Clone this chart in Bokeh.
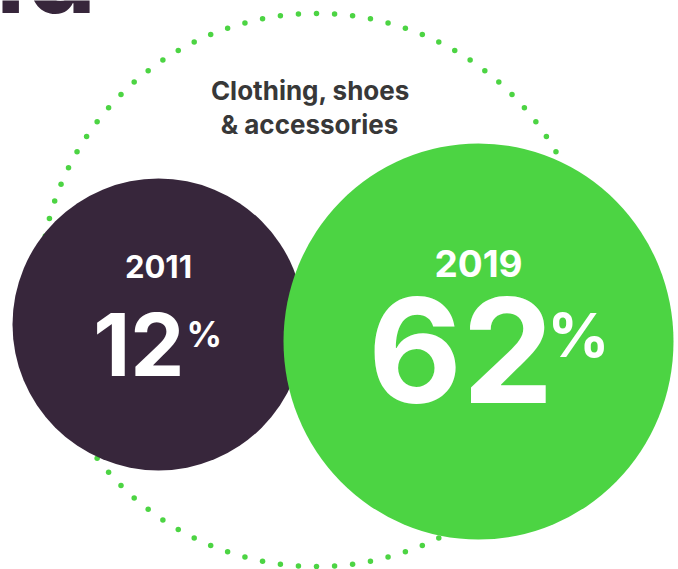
import numpy as np
from bokeh.plotting import figure
from bokeh.models import Range1d
from bokeh.core.properties import value
from bokeh.embed import file_html
from bokeh.resources import INLINE

# ---- data ----
years = ["2011", "2019"]
shares = [12, 62]
category_lines = ["Clothing, shoes", "& accessories"]
title_fragment = "ld"

# ---- layout / style ----
W, H = 678, 569
bubble_x = [158, 478]
bubble_y = [324, 341]
bubble_w = [292, 390]
bubble_h = [292, 396]
bubble_colors = ["#37263B", "#4CD443"]
year_dy = [-46, -64]
year_size = [31, 37]
val_dy = [54, 66]
val_right = [26, 75]
val_size = [86, 145]
pct_dx = [2, -6]
pct_dy = [23, 17]
pct_size = [35, 61]
ring_cx, ring_cy, ring_r, ring_n = 316, 289.5, 276.5, 96
GREEN = "#4CD443"
DARK = "#37263B"
FONT = value("Inter")
BL = 0.39  # baseline correction (fraction of font size)

p = figure(width=W, height=H, x_range=Range1d(0, W), y_range=Range1d(H, 0),
           output_backend="svg", toolbar_location=None, min_border=0)
p.axis.visible = False
p.grid.visible = False
p.outline_line_color = None
p.background_fill_color = "white"
p.border_fill_color = "white"


def label(x, y, txt, size, color, align):
    p.text(x=[x], y=[y - BL * size], text=[txt], text_font=FONT, text_font_style="bold",
           text_font_size=f"{size}px", text_color=color, text_align=align,
           text_baseline="alphabetic")


# partial headline
label(96, 15, title_fragment, 112, DARK, "right")

# dotted ring
ang = np.pi / 2 + np.arange(ring_n) * 2 * np.pi / ring_n
p.scatter(x=ring_cx + ring_r * np.cos(ang), y=ring_cy - ring_r * np.sin(ang),
          size=5.5, color=GREEN, line_color=None)

# category label
label(310, 100, category_lines[0], 26, "#383838", "center")
label(309, 134, category_lines[1], 26, "#383838", "center")

# bubbles
for i in range(len(years)):
    cx, cy = bubble_x[i], bubble_y[i]
    p.ellipse(x=[cx], y=[cy], width=bubble_w[i], height=bubble_h[i],
              fill_color=bubble_colors[i], line_color=None)
    label(cx, cy + year_dy[i], years[i], year_size[i], "white", "center")
    label(cx + val_right[i], cy + val_dy[i], str(shares[i]), val_size[i], "white", "right")
    label(cx + val_right[i] + pct_dx[i], cy + pct_dy[i], "%", pct_size[i], "white", "left")

open("out.html", "w").write(file_html(p, INLINE))
